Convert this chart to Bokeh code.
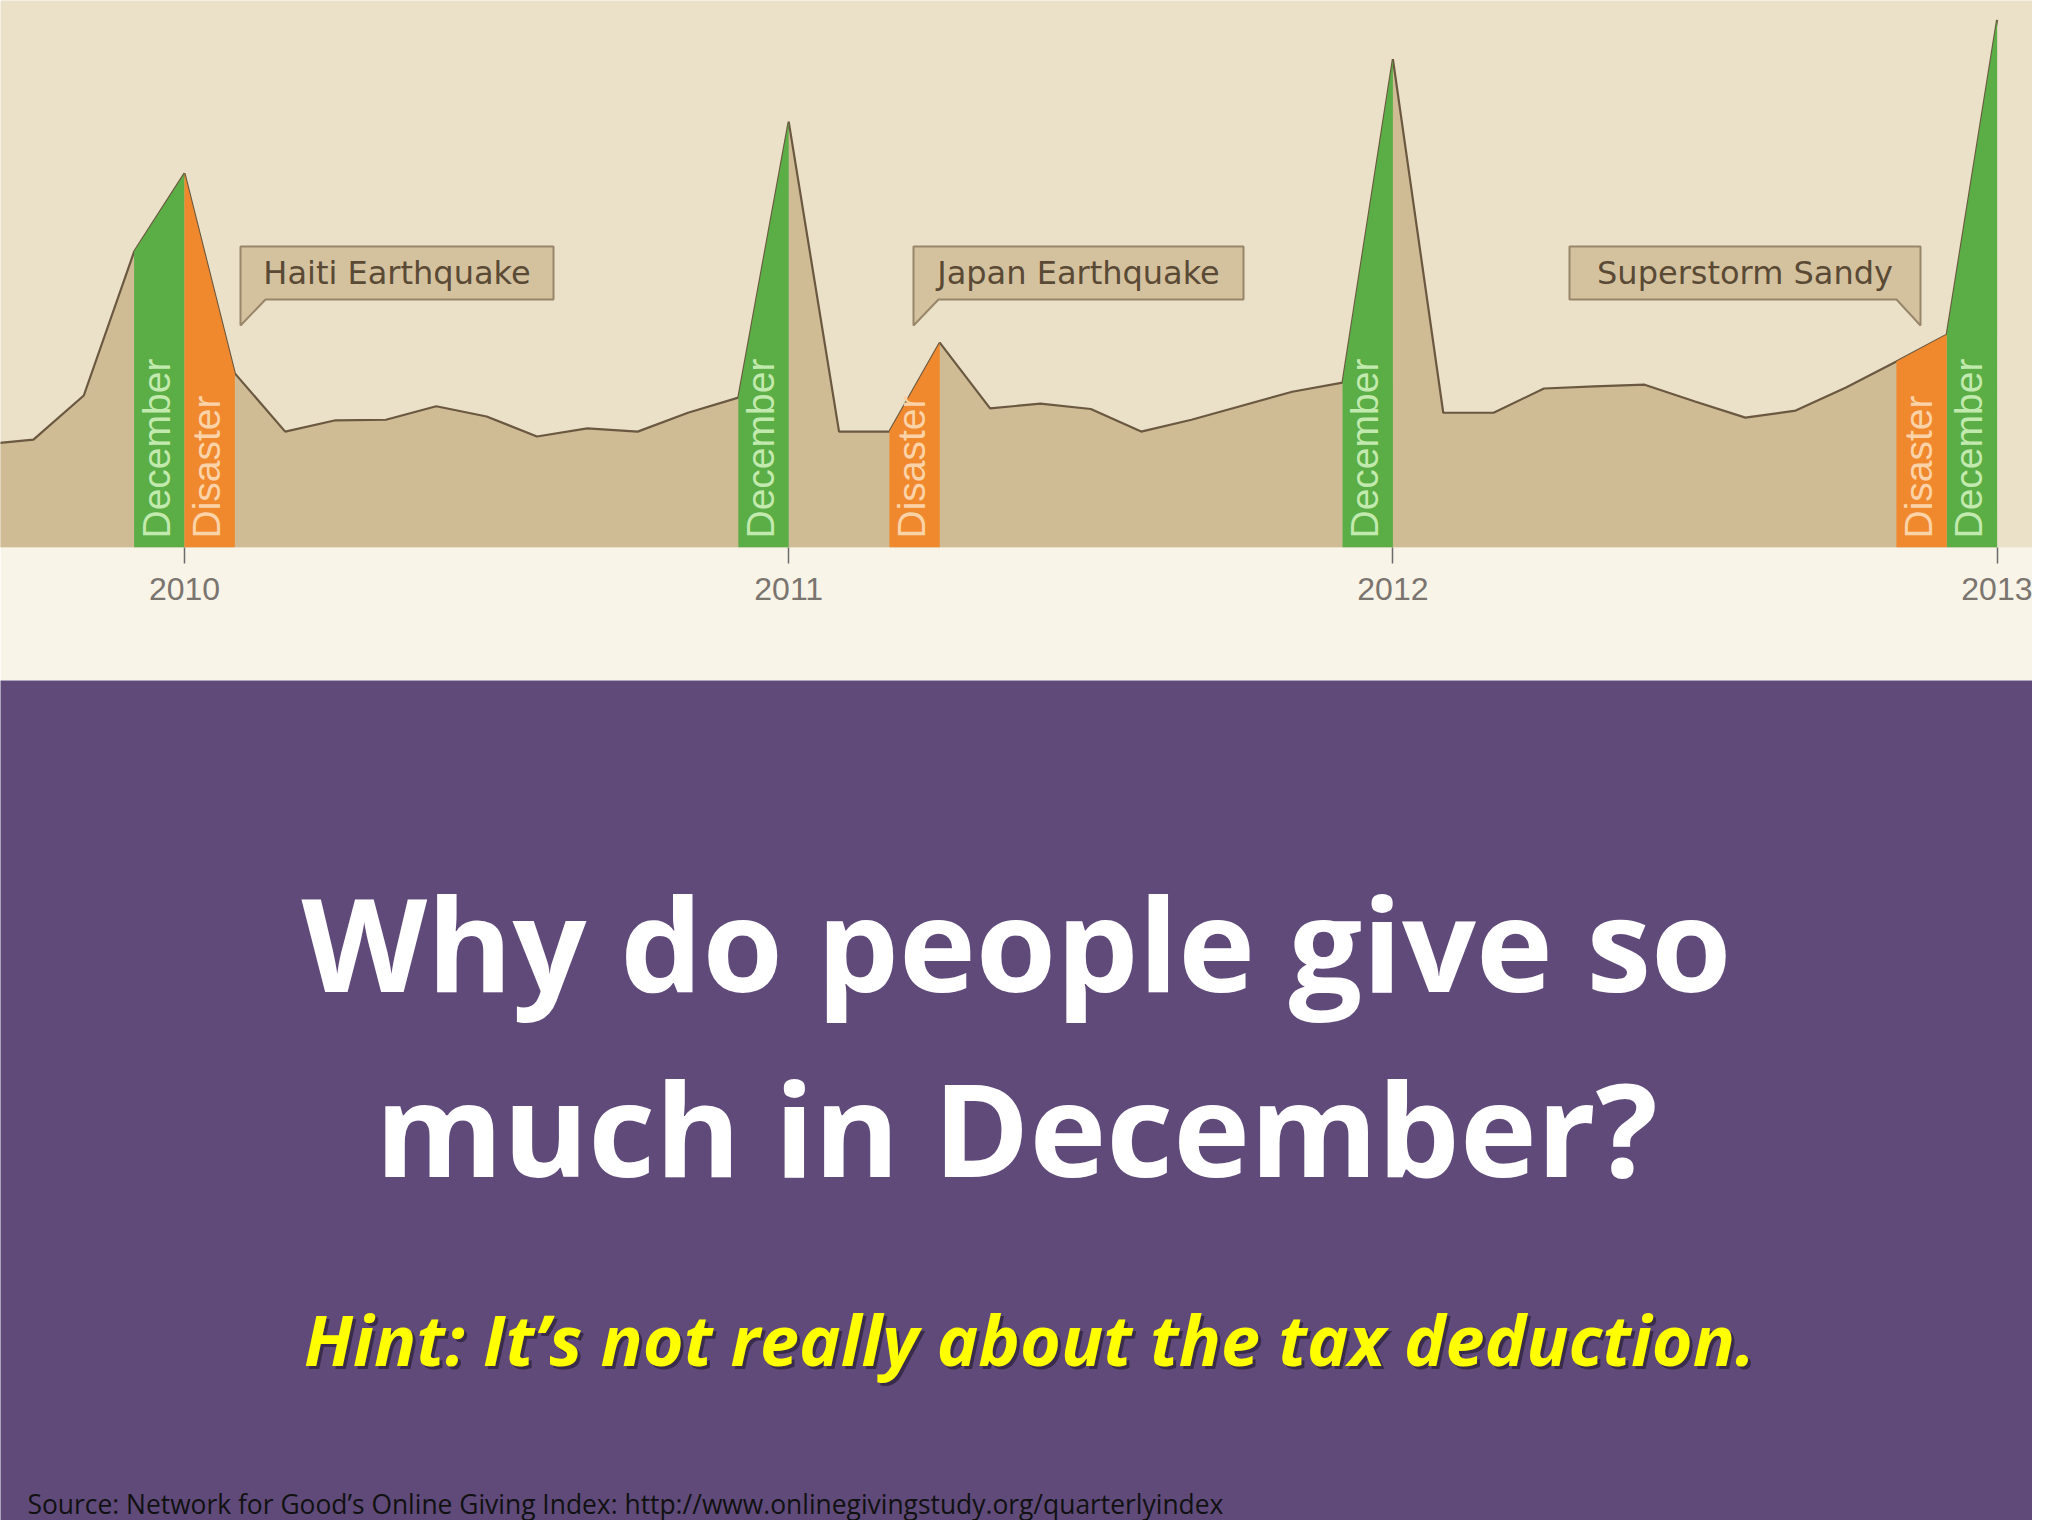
import math
from bokeh.plotting import figure
from bokeh.models import Label, FixedTicker, Range1d
from bokeh.layouts import column
from bokeh.embed import file_html
from bokeh.resources import INLINE
from bokeh.core.properties import value

# ---------------- data ----------------
months = list(range(-4, 37))          # month index, 0 = Jan 2010 tick
giving = [19.1, 20.0, 28.2, 54.9, 69.4, 32.3, 21.5, 23.6, 23.7, 26.2,
          24.3, 20.6, 22.1, 21.5, 25.0, 27.8, 79.0, 21.5, 21.5, 38.0,
          25.8, 26.7, 25.7, 21.5, 23.7, 26.3, 28.9, 30.6, 90.6, 25.0,
          25.0, 29.5, 29.9, 30.2, 27.1, 24.1, 25.4, 29.7, 34.5, 39.5, 97.9]
december_starts = [-1, 11, 23, 35]
disaster_starts = [0, 14, 34]
year_ticks = [0, 12, 24, 36]
year_labels = ["2010", "2011", "2012", "2013"]
callout_texts = ["Haiti Earthquake", "Japan Earthquake", "Superstorm Sandy"]

title_lines = ["Why do people give so", "much in December?"]
hint_text = "Hint: It\u2019s not really about the tax deduction."
source_text = ("Source: Network for Good\u2019s Online Giving Index: "
               "http://www.onlinegivingstudy.org/quarterlyindex")

# ---------------- styles ----------------
BG_TOP = "#ebe1c8"
BG_LOW = "#f9f4e8"
TAN = "#cfbc95"
LINE = "#6a5841"
GREEN = "#5bad45"
ORANGE = "#f0892d"
GREEN_TXT = "#c2eaae"
ORANGE_TXT = "#fcd3a8"
PURPLE = "#5f4a7a"

W = 2032
TOP_H = 680
FRAME_H = 547
BOT_H = 840
PX_PER_UNIT = 5.39

# pixel helpers for the annotation layout (layout only)
PX_PER_MONTH = 50.35
X0_PX = 184
def mx(px):
    return (px - X0_PX) / PX_PER_MONTH
def vy(py):
    return (FRAME_H - py) / PX_PER_UNIT

p1 = figure(width=W, height=TOP_H, output_backend="svg", toolbar_location=None,
            x_range=Range1d(mx(0), mx(W)), y_range=Range1d(0, FRAME_H / PX_PER_UNIT),
            y_axis_location=None, x_axis_location="below",
            min_border_left=0, min_border_right=0, min_border_top=0,
            min_border_bottom=TOP_H - FRAME_H)
p1.background_fill_color = BG_TOP
p1.border_fill_color = BG_LOW
p1.outline_line_color = None
p1.grid.visible = False

# area + line
p1.varea(x=months, y1=0, y2=giving, fill_color=TAN)
p1.line(months, giving, line_color=LINE, line_width=2.2)

def band_polys(starts):
    xs, ys = [], []
    for m in starts:
        i = months.index(m)
        xs.append([m, m, m + 1, m + 1])
        ys.append([0, giving[i], giving[i + 1], 0])
    return xs, ys

xs, ys = band_polys(december_starts)
p1.patches(xs, ys, fill_color=GREEN, line_color=None)
xs, ys = band_polys(disaster_starts)
p1.patches(xs, ys, fill_color=ORANGE, line_color=None)

# rotated band labels
p1.text(x=[m + 0.5 for m in december_starts], y=[0] * len(december_starts),
        text=["December"] * len(december_starts), angle=math.pi / 2,
        text_align="left", text_baseline="middle", x_offset=-3, y_offset=-9,
        text_font=value("Liberation Sans"), text_font_size="39px",
        text_color=GREEN_TXT)
p1.text(x=[m + 0.5 for m in disaster_starts], y=[0] * len(disaster_starts),
        text=["Disaster"] * len(disaster_starts), angle=math.pi / 2,
        text_align="left", text_baseline="middle", x_offset=-3, y_offset=-9,
        text_font=value("Liberation Sans"), text_font_size="39px",
        text_color=ORANGE_TXT)

# callout boxes (reference pixel layout)
callouts = [
    (240, 553, "left"),
    (913, 1243, "left"),
    (1569, 1920, "right"),
]
BOX_T, BOX_B, TIP_Y = 246, 299, 325
for (L, R, side), txt in zip(callouts, callout_texts):
    if side == "left":
        pts = [(L, BOX_T), (R, BOX_T), (R, BOX_B), (L + 25, BOX_B), (L, TIP_Y)]
    else:
        pts = [(L, BOX_T), (R, BOX_T), (R, TIP_Y), (R - 24, BOX_B), (L, BOX_B)]
    p1.patch([mx(a) for a, b in pts], [vy(b) for a, b in pts],
             fill_color="#d4c29f", line_color="#98866a", line_width=2)
    p1.add_layout(Label(x=mx((L + R) / 2), y=vy((BOX_T + BOX_B) / 2), text=txt,
                        text_align="center", text_baseline="middle",
                        text_font="DejaVu Sans", text_font_size="32px",
                        text_color="#5a4a35"))

# x axis with year ticks
ax = p1.xaxis[0]
ax.ticker = FixedTicker(ticks=year_ticks)
ax.major_label_overrides = {t: l for t, l in zip(year_ticks, year_labels)}
ax.axis_line_color = None
ax.major_tick_in = 0
ax.major_tick_out = 16
ax.major_tick_line_color = "#6b6b6b"
ax.major_tick_line_width = 1.5
ax.minor_tick_line_color = None
ax.major_label_standoff = 14
ax.major_label_text_font = "Liberation Sans"
ax.major_label_text_font_size = "32px"
ax.major_label_text_color = "#7b7570"

# ---------------- bottom text panel ----------------
p2 = figure(width=W, height=BOT_H, output_backend="svg", toolbar_location=None,
            x_range=Range1d(0, W), y_range=Range1d(TOP_H + BOT_H, TOP_H),
            x_axis_location=None, y_axis_location=None, min_border=0)
p2.background_fill_color = PURPLE
p2.border_fill_color = PURPLE
p2.outline_line_color = None
p2.grid.visible = False

for txt, mid in zip(title_lines, [941, 1126]):
    p2.add_layout(Label(x=1016, y=mid, text=txt, text_align="center",
                        text_baseline="middle", text_font="Open Sans",
                        text_font_style="bold", text_font_size="130px",
                        text_color="white"))

p2.add_layout(Label(x=1029, y=1338, x_offset=3, y_offset=-3, text=hint_text,
                    text_align="center", text_baseline="middle",
                    text_font="Open Sans", text_font_style="bold italic",
                    text_font_size="70px", text_color="#2a2036", text_alpha=0.7))
p2.add_layout(Label(x=1029, y=1338, text=hint_text,
                    text_align="center", text_baseline="middle",
                    text_font="Open Sans", text_font_style="bold italic",
                    text_font_size="70px", text_color="#ffff00"))

p2.add_layout(Label(x=27, y=1503, text=source_text, text_align="left",
                    text_baseline="middle", text_font="Open Sans",
                    text_font_size="26.4px", text_color="#111111"))

layout = column(p1, p2, spacing=0)
open("out.html", "w").write(file_html(layout, INLINE))
